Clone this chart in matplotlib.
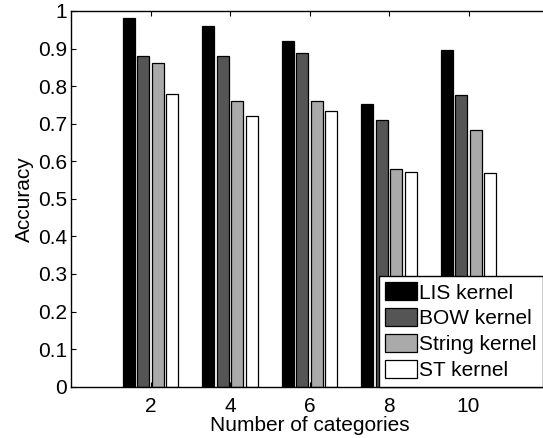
import numpy as np
import matplotlib
matplotlib.use("Agg")
import matplotlib.pyplot as plt

plt.rcParams['font.family'] = ['Liberation Sans', 'DejaVu Sans']

categories = [2, 4, 6, 8, 10]
series_names = ["LIS kernel", "BOW kernel", "String kernel", "ST kernel"]
lis = [0.981, 0.961, 0.920, 0.752, 0.897]
bow = [0.879, 0.879, 0.888, 0.711, 0.776]
string = [0.861, 0.760, 0.760, 0.580, 0.684]
st = [0.780, 0.720, 0.734, 0.571, 0.568]
colors = ["#000000", "#555555", "#aaaaaa", "#ffffff"]
yticks = [0, 0.1, 0.2, 0.3, 0.4, 0.5, 0.6, 0.7, 0.8, 0.9, 1]
ytick_labels = ["0", "0.1", "0.2", "0.3", "0.4", "0.5", "0.6", "0.7", "0.8", "0.9", "1"]

fig = plt.figure(figsize=(5.43, 4.38), dpi=100)
ax = fig.add_axes([71/543, 1 - 386.7/438, 477/543, (386.7 - 11)/438])

x = np.array(categories, dtype=float)
step = 0.365
width = 0.29
for i, (vals, name, c) in enumerate(zip([lis, bow, string, st], series_names, colors)):
    ax.bar(x + (i - 1.5) * step, vals, width=width, color=c, edgecolor="black",
           linewidth=0.9, label=name, zorder=2)

ax.set_xlim(0, 12)
ax.set_ylim(0, 1)
ax.set_xticks(categories)
ax.set_xticklabels([str(c) for c in categories])
ax.set_yticks(yticks)
ax.set_yticklabels(ytick_labels)
ax.tick_params(direction="in", length=3.5, width=0.8, labelsize=15, top=True, right=True)
ax.tick_params(axis="x", pad=7.5)
ax.tick_params(axis="y", pad=3)
for s in ax.spines.values():
    s.set_linewidth(1.0)
ax.set_xlabel("Number of categories", fontsize=15, labelpad=0)
ax.set_ylabel("Accuracy", fontsize=15, labelpad=3)

leg = ax.legend(loc="lower right", bbox_to_anchor=(1.0, 1 - 386.7/438),
                bbox_transform=fig.transFigure, borderaxespad=0,
                fontsize=15, handlelength=1.55, handleheight=0.95,
                labelspacing=0.28, handletextpad=0.1, borderpad=0.3,
                fancybox=False, framealpha=1, edgecolor="black")
leg.get_frame().set_linewidth(1.0)

fig.savefig("out.png", dpi=100)
